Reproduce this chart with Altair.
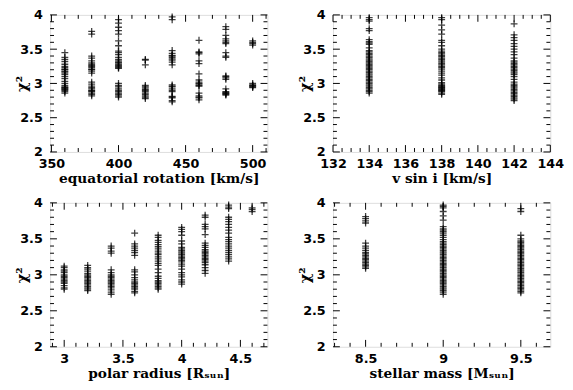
import altair as alt
import pandas as pd

# ---------------- data (chi^2 values per grid value) ----------------
Y_MAJOR = [2, 2.5, 3, 3.5, 4]
Y_MINOR = [2.1, 2.2, 2.3, 2.4, 2.6, 2.7, 2.8, 2.9, 3.1, 3.2, 3.3, 3.4, 3.6, 3.7, 3.8, 3.9]

# equatorial rotation [km/s]
eq_rot = {
    360: [3.45, 3.38, 3.35, 3.32, 3.28, 3.25, 3.23, 3.21, 3.20, 3.18, 3.17, 3.15, 3.13, 3.10,
          3.07, 3.03, 3.00, 2.97, 2.95, 2.94, 2.93, 2.92, 2.91, 2.90, 2.88, 2.86],
    380: [3.76, 3.72, 3.40, 3.37, 3.33, 3.30, 3.28, 3.26, 3.25, 3.23, 3.21, 3.20, 3.18, 3.15,
          3.02, 2.99, 2.96, 2.94, 2.92, 2.90, 2.89, 2.88, 2.86, 2.84, 2.82],
    400: [3.93, 3.88, 3.82, 3.77, 3.72, 3.62, 3.55, 3.47, 3.45, 3.42, 3.38, 3.35, 3.33, 3.31,
          3.30, 3.28, 3.26, 3.25, 3.23, 3.22, 3.00, 2.97, 2.95, 2.92, 2.90, 2.88, 2.86, 2.84,
          2.82, 2.80],
    420: [3.35, 3.34, 3.27, 2.97, 2.95, 2.93, 2.91, 2.90, 2.88, 2.86, 2.84, 2.82, 2.80, 2.78],
    440: [3.97, 3.93, 3.48, 3.44, 3.41, 3.40, 3.38, 3.36, 3.34, 3.31, 3.27, 2.98, 2.96, 2.95,
          2.92, 2.90, 2.88, 2.81, 2.80, 2.79, 2.75, 2.73],
    460: [3.63, 3.46, 3.45, 3.43, 3.33, 3.29, 3.14, 3.05, 3.02, 3.00, 2.99, 2.97, 2.96, 2.86,
          2.82, 2.80, 2.79, 2.76],
    480: [3.83, 3.79, 3.70, 3.65, 3.62, 3.60, 3.58, 3.45, 3.40, 3.38, 3.11, 3.10, 3.08, 3.06,
          2.92, 2.88, 2.87, 2.86, 2.85, 2.84, 2.83],
    500: [3.62, 3.60, 3.58, 3.56, 3.00, 2.98, 2.97, 2.96, 2.95, 2.94],
}

# v sin i [km/s]
vsini = {
    134: [3.96, 3.93, 3.91, 3.80, 3.77, 3.64, 3.61, 3.59, 3.57, 3.52, 3.48, 3.46, 3.44, 3.42,
          3.40, 3.38, 3.36, 3.34, 3.32, 3.30, 3.28, 3.26, 3.24, 3.22, 3.20, 3.18, 3.16, 3.14,
          3.12, 3.10, 3.08, 3.06, 3.04, 3.02, 3.00, 2.98, 2.96, 2.94, 2.92, 2.90, 2.88, 2.86],
    138: [3.96, 3.93, 3.85, 3.78, 3.72, 3.63, 3.60, 3.55, 3.50, 3.47, 3.45, 3.43, 3.41, 3.39,
          3.37, 3.35, 3.33, 3.31, 3.29, 3.27, 3.25, 3.23, 3.21, 3.18, 3.15, 3.12, 3.08, 3.05,
          3.01, 2.99, 2.97, 2.96, 2.95, 2.94, 2.93, 2.92, 2.91, 2.90, 2.89, 2.88, 2.86, 2.84],
    142: [3.87, 3.71, 3.67, 3.63, 3.58, 3.54, 3.50, 3.46, 3.42, 3.37, 3.33, 3.31, 3.29, 3.27,
          3.25, 3.23, 3.21, 3.19, 3.17, 3.15, 3.13, 3.10, 3.06, 3.02, 2.99, 2.97, 2.95, 2.93,
          2.91, 2.89, 2.87, 2.85, 2.83, 2.81, 2.79, 2.77, 2.75],
}

# polar radius [R_sun]
pol_rad = {
    3.0: [3.12, 3.10, 3.07, 3.05, 3.03, 3.00, 2.98, 2.96, 2.94, 2.92, 2.90, 2.88, 2.85, 2.82, 2.80],
    3.2: [3.13, 3.10, 3.08, 3.05, 3.02, 3.00, 2.98, 2.96, 2.94, 2.92, 2.90, 2.88, 2.86, 2.84,
          2.82, 2.80, 2.78],
    3.4: [3.40, 3.37, 3.33, 3.30, 3.07, 3.03, 3.00, 2.98, 2.96, 2.94, 2.92, 2.90, 2.88, 2.86,
          2.84, 2.82, 2.79, 2.76, 2.73],
    3.6: [3.58, 3.43, 3.40, 3.37, 3.34, 3.31, 3.27, 3.07, 3.04, 3.00, 2.96, 2.93, 2.90, 2.88,
          2.86, 2.84, 2.82, 2.80, 2.77, 2.75],
    3.8: [3.55, 3.52, 3.48, 3.45, 3.42, 3.39, 3.36, 3.33, 3.30, 3.28, 3.25, 3.22, 3.19, 3.16,
          3.13, 3.08, 3.03, 2.98, 2.95, 2.92, 2.90, 2.88, 2.86, 2.84, 2.82, 2.80],
    4.0: [3.66, 3.63, 3.60, 3.55, 3.47, 3.43, 3.38, 3.36, 3.34, 3.32, 3.30, 3.28, 3.26, 3.24,
          3.22, 3.20, 3.18, 3.15, 3.12, 3.08, 3.03, 3.00, 2.97, 2.93, 2.90, 2.87],
    4.2: [3.83, 3.80, 3.70, 3.67, 3.64, 3.56, 3.44, 3.41, 3.38, 3.35, 3.33, 3.31, 3.29, 3.27,
          3.25, 3.23, 3.21, 3.19, 3.17, 3.14, 3.10, 3.06, 3.02],
    4.4: [3.97, 3.94, 3.92, 3.80, 3.77, 3.74, 3.70, 3.66, 3.62, 3.58, 3.52, 3.49, 3.46, 3.43,
          3.40, 3.37, 3.34, 3.31, 3.28, 3.25, 3.22, 3.19],
    4.6: [3.93, 3.91, 3.88],
}

# stellar mass [M_sun]
mass = {
    8.5: [3.81, 3.78, 3.75, 3.72, 3.44, 3.40, 3.37, 3.34, 3.31, 3.29, 3.27, 3.25, 3.23, 3.21,
          3.19, 3.17, 3.15, 3.13, 3.11, 3.09],
    9.0: [3.97, 3.95, 3.93, 3.88, 3.82, 3.76, 3.67, 3.64, 3.62, 3.60, 3.58, 3.55, 3.52, 3.49,
          3.46, 3.44, 3.42, 3.40, 3.38, 3.36, 3.34, 3.32, 3.30, 3.28, 3.26, 3.24, 3.22, 3.20,
          3.18, 3.16, 3.14, 3.12, 3.10, 3.08, 3.06, 3.04, 3.02, 3.00, 2.98, 2.96, 2.94, 2.92,
          2.90, 2.88, 2.86, 2.84, 2.82, 2.80, 2.78, 2.76, 2.73],
    9.5: [3.92, 3.88, 3.55, 3.50, 3.47, 3.45, 3.43, 3.41, 3.39, 3.37, 3.35, 3.33, 3.31, 3.29,
          3.27, 3.25, 3.23, 3.21, 3.19, 3.17, 3.15, 3.13, 3.11, 3.09, 3.07, 3.05, 3.03, 3.01,
          2.99, 2.97, 2.95, 2.93, 2.91, 2.89, 2.87, 2.85, 2.83, 2.81, 2.79, 2.77, 2.75],
}

# axis definitions
X1_MAJOR = [350, 400, 450, 500]
X1_MINOR = [360, 370, 380, 390, 410, 420, 430, 440, 460, 470, 480, 490, 510]
X2_MAJOR = [132, 134, 136, 138, 140, 142, 144]
X2_MINOR = [132.5, 133, 133.5, 134.5, 135, 135.5, 136.5, 137, 137.5, 138.5, 139, 139.5,
            140.5, 141, 141.5, 142.5, 143, 143.5]
X3_MAJOR = [3, 3.5, 4, 4.5]
X3_MINOR = [2.9, 3.1, 3.2, 3.3, 3.4, 3.6, 3.7, 3.8, 3.9, 4.1, 4.2, 4.3, 4.4, 4.6, 4.7]
X4_MAJOR = [8.5, 9, 9.5]
X4_MINOR = [8.3, 8.4, 8.6, 8.7, 8.8, 8.9, 9.1, 9.2, 9.3, 9.4, 9.6]

NUM_FONT = "DejaVu Sans"
TXT_FONT = "DejaVu Serif"
W = 222
MAJ = 7
MIN = 4
CROSS = "M-1,0L1,0M0,-1L0,1"


def panel(groups, xdomain, xmajor, xminor, xtitle, h):
    rows = [{"v": k, "chi": v} for k, vals in groups.items() for v in vals]
    df = pd.DataFrame(rows)
    xs = alt.Scale(domain=xdomain, nice=False, zero=False)
    ys = alt.Scale(domain=[2, 4], nice=False, zero=False)
    xaxis = alt.Axis(
        values=xmajor, title=xtitle, format="~r", ticks=False, domain=False, grid=False,
        labelPadding=6, titlePadding=5, minExtent=15, maxExtent=15, labelOverlap=False,
        labelFlush=False,
        labelFont=NUM_FONT, labelFontSize=13, labelFontWeight="bold", labelColor="black",
        titleFont=TXT_FONT, titleFontSize=14, titleFontWeight="bold", titleColor="black")
    yaxis = alt.Axis(
        values=Y_MAJOR, title="χ²", format="~r", ticks=False, domain=False, grid=False,
        labelPadding=8, titlePadding=0, minExtent=21, maxExtent=21, labelOverlap=False,
        labelFlush=False,
        labelFont=NUM_FONT, labelFontSize=13, labelFontWeight="bold", labelColor="black",
        titleFont=TXT_FONT, titleFontSize=15, titleFontWeight="bold", titleColor="black")

    pts = alt.Chart(df).mark_point(
        shape=CROSS, filled=False, size=49, strokeWidth=1.3, color="black", opacity=0.75
    ).encode(
        x=alt.X("v:Q", scale=xs, axis=xaxis, title=xtitle),
        y=alt.Y("chi:Q", scale=ys, axis=yaxis, title="χ²"),
    )

    layers = [pts]
    for vals, ln in ((xmajor, MAJ), (xminor, MIN)):
        tdf = pd.DataFrame({"v": vals})
        base = alt.Chart(tdf).mark_rule(color="black", strokeWidth=1)
        layers.append(base.encode(x=alt.X("v:Q", scale=xs, axis=xaxis, title=xtitle),
                                  y=alt.value(h), y2=alt.value(h - ln)))
        layers.append(base.encode(x=alt.X("v:Q", scale=xs, axis=xaxis, title=xtitle),
                                  y=alt.value(0), y2=alt.value(ln)))
    for vals, ln in ((Y_MAJOR, MAJ), (Y_MINOR, MIN)):
        tdf = pd.DataFrame({"chi": vals})
        base = alt.Chart(tdf).mark_rule(color="black", strokeWidth=1)
        layers.append(base.encode(y=alt.Y("chi:Q", scale=ys, axis=yaxis, title="χ²"),
                                  x=alt.value(0), x2=alt.value(ln)))
        layers.append(base.encode(y=alt.Y("chi:Q", scale=ys, axis=yaxis, title="χ²"),
                                  x=alt.value(W), x2=alt.value(W - ln)))
    return alt.layer(*layers).properties(width=W, height=h)


p1 = panel(eq_rot, [349, 511], X1_MAJOR, X1_MINOR, "equatorial  rotation  [km/s]", 140)
p2 = panel(vsini, [132, 144], X2_MAJOR, X2_MINOR, "v  sin  i  [km/s]", 140)
p3 = panel(pol_rad, [2.88, 4.73], X3_MAJOR, X3_MINOR, "polar  radius  [Rₛᵤₙ]", 147)
p4 = panel(mass, [8.29, 9.69], X4_MAJOR, X4_MINOR, "stellar  mass  [Mₛᵤₙ]", 147)

chart = alt.vconcat(
    alt.hconcat(p1, p2, spacing=29),
    alt.hconcat(p3, p4, spacing=29),
    spacing=10,
).properties(
    padding={"left": 6, "top": -4, "right": 0, "bottom": 0}
).configure_view(
    stroke="black", strokeWidth=1.2
).configure(background="white")

chart.save("out.html", embed_options={"renderer": "svg", "actions": False})
